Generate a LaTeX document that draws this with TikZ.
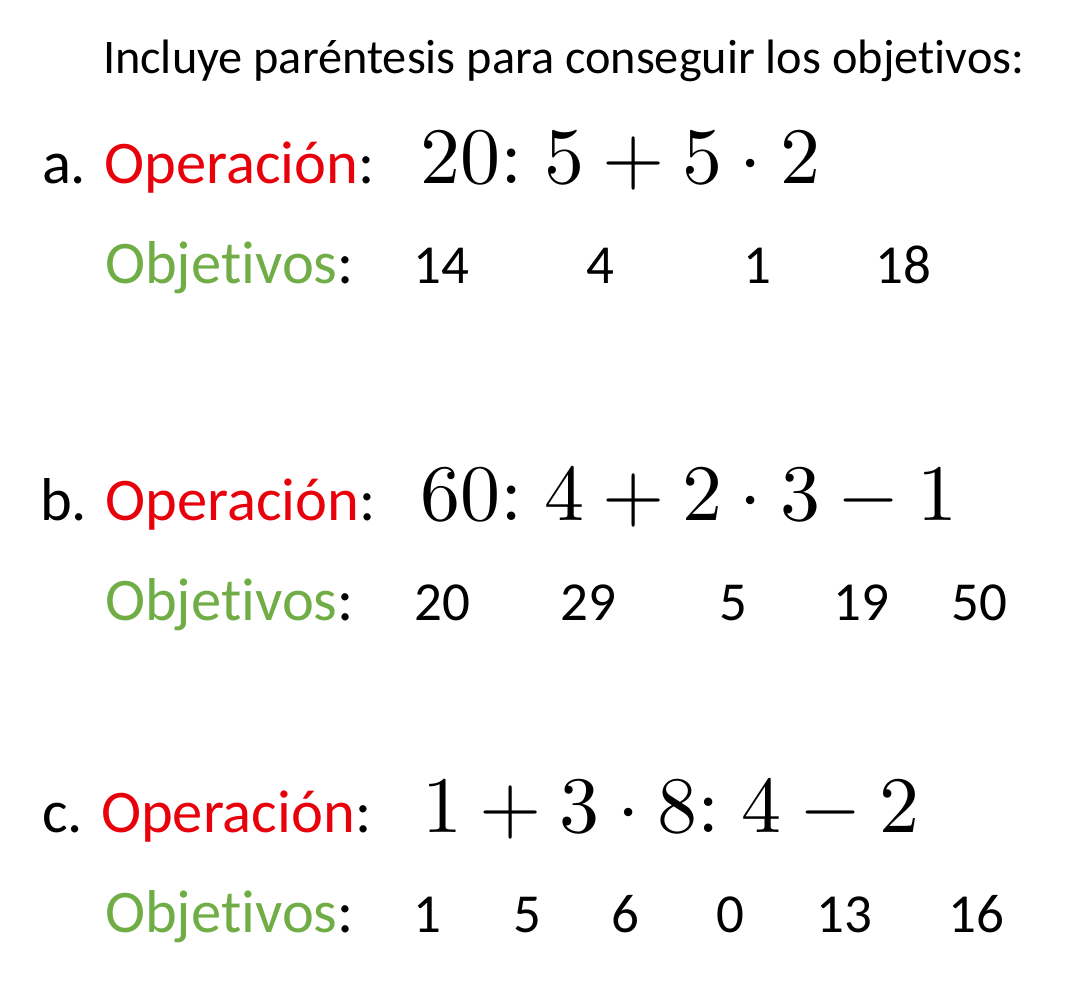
\documentclass[tikz,border=0pt]{standalone}
\usepackage{graphicx}
\usepackage[no-math]{fontspec}
\setmainfont{Carlito}[Ligatures=NoCommon]
\definecolor{opred}{HTML}{E8000B}
\definecolor{objgreen}{HTML}{70AD47}
\newcommand{\bigmath}[1]{\scalebox{8.0}{$#1$}}
\tikzset{
  txt/.style={anchor=base west, inner sep=0pt, outer sep=0pt},
  num/.style={anchor=base, inner sep=0pt, outer sep=0pt, font=\fontsize{55}{60}\selectfont},
  lbl/.style={txt, font=\fontsize{60.5}{66}\selectfont},
  mth/.style={txt}
}
\begin{document}
\begin{tikzpicture}[x=1pt,y=-1pt]
\useasboundingbox[fill=white] (0,0) rectangle (1069,1007);
% title
\node[txt, font=\fontsize{48.3}{54}\selectfont] (title) at (103,73) {Incluye paréntesis para conseguir los objetivos:};
% a
\node[lbl] (la) at (42,183) {a. \textcolor{opred}{Operación}:};
\node[mth] (ma) at (420,183) {\bigmath{20{:}\;5+5\cdot 2}};
\node[lbl] (oa) at (105,283) {\textcolor{objgreen}{Objetivos}:};
\node[num] (a1) at (441,283) {14};
\node[num] (a2) at (600,283) {4};
\node[num] (a3) at (757,283) {1};
\node[num] (a4) at (903,283) {18};
% b
\node[lbl] (lb) at (40,520) {b. \textcolor{opred}{Operación}:};
\node[mth] (mb) at (420,520) {\bigmath{60{:}\;4+2\cdot 3-1}};
\node[lbl] (ob) at (105,620) {\textcolor{objgreen}{Objetivos}:};
\node[num] (b1) at (442,620) {20};
\node[num] (b2) at (588,620) {29};
\node[num] (b3) at (733,620) {5};
\node[num] (b4) at (861,620) {19};
\node[num] (b5) at (979,620) {50};
% c
\node[lbl] (lc) at (42,832) {c. \textcolor{opred}{Operación}:};
\node[mth] (mc) at (422,832) {\bigmath{1+3\cdot 8{:}\;4-2}};
\node[lbl] (oc) at (105,932) {\textcolor{objgreen}{Objetivos}:};
\node[num] (c1) at (427,932) {1};
\node[num] (c2) at (527,932) {5};
\node[num] (c3) at (625,932) {6};
\node[num] (c4) at (730,932) {0};
\node[num] (c5) at (844,932) {13};
\node[num] (c6) at (976,932) {16};
\end{tikzpicture}
\end{document}
